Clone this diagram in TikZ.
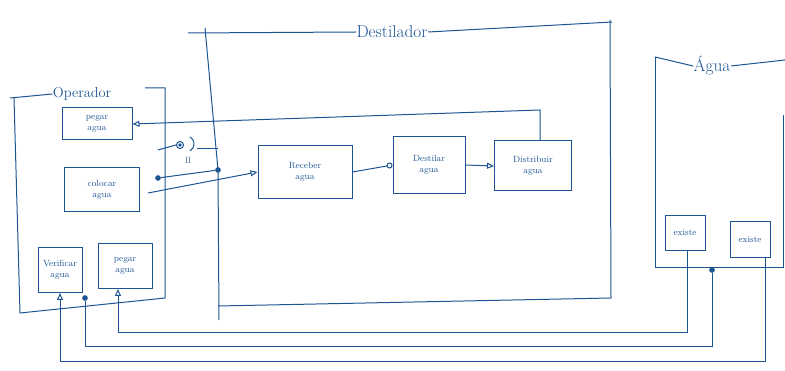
\documentclass[tikz,border=0pt]{standalone}
\usetikzlibrary{arrows.meta}
\definecolor{pen}{RGB}{28,84,148}
\begin{document}
\begin{tikzpicture}[x=1pt,y=-1pt,
  every path/.style={draw=pen,line width=1pt},
  box/.style={draw=pen,line width=1pt,align=center,text=pen,font=\small,inner sep=1pt},
  lbl/.style={text=pen,inner sep=0pt},
  dotn/.style={circle,fill=pen,draw=pen,inner sep=1.6pt},
  tri/.style={-{Triangle[open,length=7pt,width=6pt]}},
  circ/.style={-{Circle[open,length=6pt]}}]
\useasboundingbox[draw=none] (0,0) rectangle (785,371);

% ---- Destilador frame
\node[lbl,font=\LARGE] (tdest) at (392,32) {Destilador};
\draw (188,33) -- (tdest.west);
\draw (tdest.east) -- (612,22);
\draw (610,20) -- (611,298) -- (218,306);
\draw (205,28) -- (218,170) -- (219,320);

% ---- Operador frame
\node[lbl,font=\Large] (top) at (82,94) {Operador};
\draw (10,98) -- (top.west);
\draw (145,88) -- (165,88) -- (165,298) -- (20,313) -- (14,98);

% ---- Agua frame
\node[lbl,font=\LARGE] (tagua) at (712,66) {Água};
\draw (655,57) -- (tagua.west);
\draw (tagua.east) -- (785,60);
\draw (655,57) -- (655,268) -- (783,268) -- (783,115);

% ---- boxes
\node[box,minimum width=70,minimum height=32] (peg1) at (97,124) {pegar\\agua};
\node[box,minimum width=75,minimum height=44] (col) at (102,190) {colocar\\agua};
\node[box,minimum width=44,minimum height=45] (ver) at (60,270) {Verificar\\agua};
\node[box,minimum width=54,minimum height=45] (peg2) at (125,266) {pegar\\agua};
\node[box,minimum width=94,minimum height=53] (rec) at (305,172) {Receber\\agua};
\node[box,minimum width=72,minimum height=57] (dst) at (429,165) {Destilar\\agua};
\node[box,minimum width=77,minimum height=50] (dis) at (533,166) {Distribuir\\agua};
\node[box,minimum width=40,minimum height=35] (ex1) at (685,233) {existe};
\node[box,minimum width=40,minimum height=36] (ex2) at (750,240) {existe};

% ---- dots and socket
\node[dotn] (d1) at (158,178) {};
\node[dotn] (d2) at (218,170) {};
\node[dotn] (d3) at (85,298) {};
\node[dotn] (d4) at (712,270) {};
\coordinate (s0) at (158,150);
\node[circle,draw=pen,line width=1pt,inner sep=2.5pt] (sock) at (180,145) {};
\fill[pen] (sock.center) circle (1.2pt);
\draw (190,137) arc[start angle=120,end angle=240,radius=-8];
\coordinate (s1) at (197,149);
\coordinate (s2) at (218,149);
\node[lbl,font=\small] (ll) at (188,160) {ll};

% ---- connectors
\draw (s0) -- (sock.west);
\draw (s1) -- (s2);
\draw (d1) -- (d2);
\coordinate (c0) at (148,193);
\draw[tri] (c0) -- (rec.west);
\draw[circ] (rec.east) -- (dst.west);
\draw[tri] (dst.east) -- (dis.west);
\coordinate (c1) at (540,110);
\draw[tri] (dis.north -| c1) -- (c1) -- (peg1.east);

\coordinate (b1) at (118,333);
\coordinate (b1r) at (687,333);
\draw[tri] (ex1.south -| b1r) -- (b1r) -- (b1) -- (peg2.south -| b1);
\coordinate (b2) at (85,347);
\coordinate (b2r) at (712,347);
\draw (d3) -- (b2) -- (b2r) -- (d4);
\coordinate (b3) at (60,362);
\coordinate (b3r) at (765,362);
\draw[tri] (ex2.south -| b3r) -- (b3r) -- (b3) -- (ver.south);
\end{tikzpicture}
\end{document}
